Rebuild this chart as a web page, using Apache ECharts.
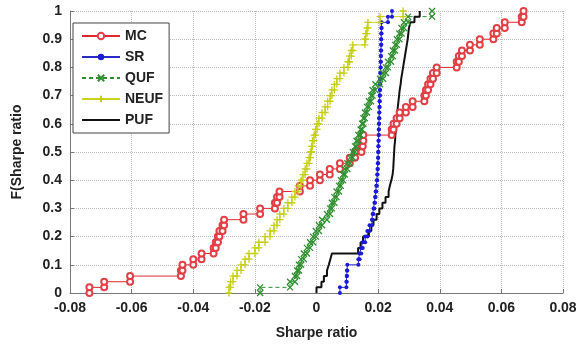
<!DOCTYPE html>
<html>
<head>
<meta charset="utf-8">
<script src="https://cdn.jsdelivr.net/npm/echarts@6/dist/echarts.min.js"></script>
<style>html,body{margin:0;padding:0;background:#fff;}#c{width:581px;height:345px;}</style>
</head>
<body>
<div id="c"></div>
<script>
// Sorted Sharpe ratio samples for each method (empirical CDF, 50 samples each)
var seriesNames = ['MC', 'SR', 'QUF', 'NEUF', 'PUF'];
var MC = [-0.0737, -0.0689, -0.0605, -0.0440, -0.0435, -0.0400, -0.0373, -0.0334, -0.0327, -0.0320,
  -0.0315, -0.0305, -0.0300, -0.0237, -0.0183, -0.0135, -0.0128, -0.0120, -0.0054, -0.0021,
  0.0011, 0.0043, 0.0076, 0.0108, 0.0125, 0.0146, 0.0150, 0.0152, 0.0244, 0.0250,
  0.0260, 0.0270, 0.0290, 0.0312, 0.0350, 0.0355, 0.0362, 0.0370, 0.0378, 0.0390,
  0.0455, 0.0462, 0.0472, 0.0498, 0.0530, 0.0574, 0.0585, 0.0611, 0.0666, 0.0672];
var SR = [0.0076, 0.0097, 0.0098, 0.0099, 0.0100, 0.0136, 0.0140, 0.0145, 0.0150, 0.0158,
  0.0165, 0.0172, 0.0180, 0.0182, 0.0185, 0.0188, 0.0190, 0.0192, 0.0194, 0.0196,
  0.0197, 0.0198, 0.0199, 0.0200, 0.0200, 0.0201, 0.0201, 0.0202, 0.0202, 0.0203,
  0.0203, 0.0204, 0.0204, 0.0205, 0.0205, 0.0206, 0.0206, 0.0207, 0.0207, 0.0208,
  0.0208, 0.0209, 0.0209, 0.0210, 0.0210, 0.0210, 0.0211, 0.0211, 0.0232, 0.0245];
var QUF = [-0.0183, -0.0086, -0.0070, -0.0063, -0.0057, -0.0050, -0.0041, -0.0031, -0.0021, -0.0011,
  -0.0002, 0.0008, 0.0018, 0.0034, 0.0044, 0.0050, 0.0058, 0.0065, 0.0073, 0.0079,
  0.0086, 0.0092, 0.0100, 0.0109, 0.0118, 0.0125, 0.0130, 0.0136, 0.0143, 0.0148,
  0.0152, 0.0157, 0.0164, 0.0170, 0.0177, 0.0182, 0.0191, 0.0206, 0.0216, 0.0225,
  0.0232, 0.0242, 0.0248, 0.0255, 0.0261, 0.0269, 0.0276, 0.0284, 0.0297, 0.0375];
var NEUF = [-0.0284, -0.0279, -0.0271, -0.0258, -0.0245, -0.0232, -0.0219, -0.0200, -0.0187, -0.0167,
  -0.0151, -0.0138, -0.0128, -0.0119, -0.0106, -0.0093, -0.0080, -0.0070, -0.0060, -0.0050,
  -0.0044, -0.0037, -0.0031, -0.0024, -0.0020, -0.0016, -0.0013, -0.0008, -0.0003, 0.0002,
  0.0008, 0.0018, 0.0028, 0.0036, 0.0044, 0.0050, 0.0058, 0.0066, 0.0076, 0.0089,
  0.0102, 0.0107, 0.0113, 0.0118, 0.0157, 0.0160, 0.0164, 0.0167, 0.0206, 0.0281];
var PUF = [0.0000, 0.0016, 0.0024, 0.0034, 0.0040, 0.0045, 0.0050, 0.0135, 0.0143, 0.0151,
  0.0170, 0.0178, 0.0185, 0.0195, 0.0204, 0.0214, 0.0224, 0.0234, 0.0238, 0.0243,
  0.0247, 0.0249, 0.0250, 0.0251, 0.0252, 0.0253, 0.0255, 0.0256, 0.0258, 0.0260,
  0.0261, 0.0262, 0.0264, 0.0266, 0.0268, 0.0270, 0.0273, 0.0275, 0.0278, 0.0281,
  0.0284, 0.0287, 0.0290, 0.0293, 0.0296, 0.0298, 0.0300, 0.0305, 0.0318, 0.0335];
var xTicks = ['-0.08', '-0.06', '-0.04', '-0.02', '0', '0.02', '0.04', '0.06', '0.08'];
var yTicks = ['0', '0.1', '0.2', '0.3', '0.4', '0.5', '0.6', '0.7', '0.8', '0.9', '1'];
var xName = 'Sharpe ratio';
var yName = 'F(Sharpe ratio';

function stairs(vals) {
  var n = vals.length, pts = [];
  for (var i = 0; i < n; i++) {
    pts.push([vals[i], i / n]);
    pts.push([vals[i], (i + 1) / n]);
  }
  return pts;
}

var FONT = 'Liberation Sans, Arial, sans-serif';
var chart = echarts.init(document.getElementById('c'), null, {renderer: 'canvas'});
var xPath = 'path://M0,0L10,10M10,0L0,10';
var plusPath = 'path://M5,0L5,10M0,5L10,5';

chart.setOption({
  animation: false,
  backgroundColor: '#fff',
  grid: {left: 70, right: 18, top: 11, bottom: 52, containLabel: false},
  legend: {
    orient: 'vertical', left: 73, top: 23,
    data: ['MC', 'SR', 'QUF', 'NEUF', {name: 'PUF', itemStyle: {opacity: 0}}],
    backgroundColor: '#fff', borderColor: '#444', borderWidth: 1,
    padding: [6, 6, 6, 8], itemWidth: 38, itemHeight: 8, itemGap: 7,
    textStyle: {fontFamily: FONT, fontWeight: 'bold', fontSize: 14, color: '#222'}
  },
  xAxis: {
    type: 'value', min: -0.08, max: 0.08, interval: 0.02,
    name: xName, nameLocation: 'middle', nameGap: 33,
    nameTextStyle: {fontFamily: FONT, fontWeight: 'bold', fontSize: 14, color: '#222'},
    axisLine: {onZero: false, lineStyle: {color: '#777', width: 1}},
    axisTick: {inside: true, length: 4, lineStyle: {color: '#777'}},
    axisLabel: {fontFamily: FONT, fontWeight: 'bold', fontSize: 14, color: '#222', margin: 8,
      formatter: function (v) { return xTicks[Math.round((v + 0.08) / 0.02)]; }},
    splitLine: {show: true, lineStyle: {color: '#bbb', type: 'dotted', width: 1}}
  },
  yAxis: {
    type: 'value', min: 0, max: 1, interval: 0.1,
    name: yName, nameLocation: 'middle', nameGap: 46,
    nameTextStyle: {fontFamily: FONT, fontWeight: 'bold', fontSize: 14, color: '#222'},
    axisLine: {show: true, onZero: false, lineStyle: {color: '#777', width: 1}},
    axisTick: {show: true, inside: true, length: 4, lineStyle: {color: '#777'}},
    axisLabel: {fontFamily: FONT, fontWeight: 'bold', fontSize: 14, color: '#222', margin: 8,
      formatter: function (v) { return yTicks[Math.round(v * 10)]; }},
    splitLine: {show: true, lineStyle: {color: '#bbb', type: 'dotted', width: 1}}
  },
  series: [
    {name: 'MC', type: 'line', data: stairs(MC), symbol: 'emptyCircle', symbolSize: 6,
      lineStyle: {color: '#e0282c', width: 1}, itemStyle: {color: '#e04046', borderColor: '#e04046', borderWidth: 1}},
    {name: 'SR', type: 'line', data: stairs(SR), symbol: 'circle', symbolSize: 4,
      lineStyle: {color: '#2a2ac8', width: 1}, itemStyle: {color: '#1a1ad8'}},
    {name: 'QUF', type: 'line', data: stairs(QUF), symbol: xPath, symbolSize: 6,
      lineStyle: {color: '#2f8f2f', width: 1, type: [4, 3]}, itemStyle: {color: '#2f8f2f', borderColor: '#2f8f2f', borderWidth: 1.3}},
    {name: 'NEUF', type: 'line', data: stairs(NEUF), symbol: plusPath, symbolSize: 7,
      lineStyle: {color: '#cdd41e', width: 1}, itemStyle: {color: '#c6cf14', borderColor: '#c6cf14', borderWidth: 1.3}},
    {name: 'PUF', type: 'line', data: stairs(PUF), symbol: 'none', showSymbol: false,
      lineStyle: {color: '#111', width: 2}, itemStyle: {color: '#111'}}
  ]
});
</script>
</body>
</html>
